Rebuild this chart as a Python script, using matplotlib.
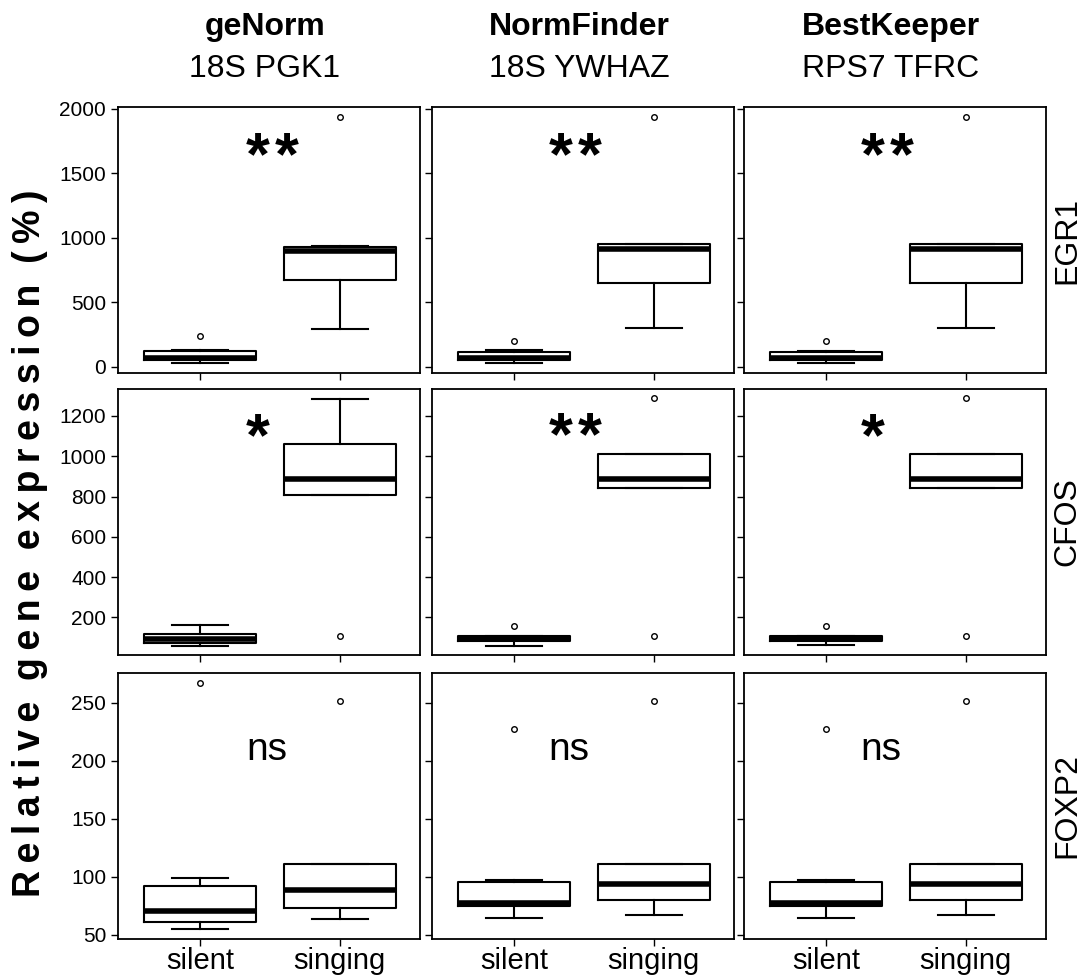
import numpy as np
import matplotlib
matplotlib.use('Agg')
import matplotlib.pyplot as plt

plt.rcParams['font.family'] = ['Liberation Sans', 'DejaVu Sans']

# --- data ---
methods = ['geNorm', 'NormFinder', 'BestKeeper']
ref_genes = ['18S PGK1', '18S YWHAZ', 'RPS7 TFRC']
genes = ['EGR1', 'CFOS', 'FOXP2']
groups = ['silent', 'singing']

# per gene: [method][group] -> (whislo, q1, med, q3, whishi)
egr1_stats = [
    [(31, 52, 66, 120, 127), (292, 670, 898, 931, 935)],
    [(29, 52, 68, 116, 127), (303, 652, 915, 952, 952)],
    [(26, 52, 66, 111, 124), (303, 652, 916, 952, 952)],
]
egr1_fliers = [
    [[240], [1940]],
    [[202], [1940]],
    [[199], [1935]],
]
cfos_stats = [
    [(59, 71, 92, 115, 162), (806, 806, 889, 1061, 1286)],
    [(60, 82, 95, 107, 108), (841, 841, 889, 1013, 1013)],
    [(62, 82, 95, 107, 108), (841, 841, 887, 1013, 1013)],
]
cfos_fliers = [
    [[], [109]],
    [[157], [1288, 105]],
    [[158], [1288, 105]],
]
foxp2_stats = [
    [(55, 61, 71, 92, 99), (64, 73, 89, 111, 111)],
    [(65, 75, 77.5, 96, 97.6), (67, 80, 93.6, 111, 111)],
    [(65, 75, 77.5, 96, 97.6), (67, 80, 93.6, 111, 111)],
]
foxp2_fliers = [
    [[267], [252]],
    [[227.5], [252]],
    [[227.5], [252]],
]

egr1_sig = ['**', '**', '**']
cfos_sig = ['*', '**', '*']
foxp2_sig = ['ns', 'ns', 'ns']

ylims = [(-49, 2015), (13, 1334), (46.5, 275.7)]
yticks = [[0, 500, 1000, 1500, 2000],
          [200, 400, 600, 800, 1000, 1200],
          [50, 100, 150, 200, 250]]

all_stats = [egr1_stats, cfos_stats, foxp2_stats]
all_fliers = [egr1_fliers, cfos_fliers, foxp2_fliers]
all_sig = [egr1_sig, cfos_sig, foxp2_sig]

# --- layout (pixels) ---
W, H = 1083, 975
col_left = [118, 432, 744]
row_top = [107, 389, 673]
pw, ph = 302, 266

fig = plt.figure(figsize=(W / 100, H / 100), dpi=100)


def px_axes(x0, top):
    return fig.add_axes([x0 / W, 1 - (top + ph) / H, pw / W, ph / H])


sig_x = [1.33, 1.25, 1.25]
THIN = '\u2009'
HAIR = '\u200a'

for r in range(3):
    for c in range(3):
        ax = px_axes(col_left[c], row_top[r])
        bstats = []
        for g in range(2):
            lo, q1, med, q3, hi = all_stats[r][c][g]
            bstats.append(dict(whislo=lo, q1=q1, med=med, q3=q3, whishi=hi,
                               fliers=all_fliers[r][c][g], label=groups[g]))
        ax.bxp(bstats, positions=[1, 2], widths=0.8, capwidths=0.4,
               boxprops=dict(color='black', linewidth=1.5),
               whiskerprops=dict(color='black', linewidth=1.5),
               capprops=dict(color='black', linewidth=1.5),
               medianprops=dict(color='black', linewidth=4, solid_capstyle='butt'),
               flierprops=dict(marker='o', markersize=4, markerfacecolor='none',
                               markeredgecolor='black', markeredgewidth=1.0))
        ax.set_xlim(0.415, 2.575)
        ax.set_ylim(*ylims[r])
        ax.set_yticks(yticks[r])
        ax.set_xticks([1, 2])
        for s in ax.spines.values():
            s.set_linewidth(1.3)
        ax.tick_params(axis='both', direction='out', length=5, width=1,
                       labelsize=15, colors='black')
        ax.tick_params(axis='x', labelsize=21, pad=1)
        if c > 0:
            ax.set_yticklabels([])
        if r < 2:
            ax.set_xticklabels([])
        else:
            ax.set_xticklabels(groups)

        sig = all_sig[r][c]
        if sig == 'ns':
            ax.text(sig_x[c], 0.672, sig, transform=ax.get_xaxis_transform(),
                    fontsize=28, ha='left', va='baseline')
        else:
            ax.text(sig_x[c], 0.745 if r == 0 else 0.753, HAIR.join(sig),
                    transform=ax.get_xaxis_transform(),
                    fontsize=44, fontweight='bold', ha='left', va='baseline')

        if c == 2:
            ax.text(1.07, 0.5, genes[r], transform=ax.transAxes, rotation=90,
                    fontsize=23, ha='center', va='center')

# column headers
for c in range(3):
    xc = (col_left[c] + pw / 2 - 4) / W
    fig.text(xc, 1 - 35 / H, methods[c], fontsize=23, fontweight='bold',
             ha='center', va='baseline')
    fig.text(xc, 1 - 77 / H, ref_genes[c], fontsize=23,
             ha='center', va='baseline')

# spaced y label
ylab = '  '.join(THIN.join(w) for w in ['Relative', 'gene', 'expression', '(%)'])
fig.text(30 / W, 1 - 543 / H, ylab, rotation=90, fontsize=27,
         fontweight='bold', ha='center', va='center')

fig.savefig('out.png', dpi=100)
